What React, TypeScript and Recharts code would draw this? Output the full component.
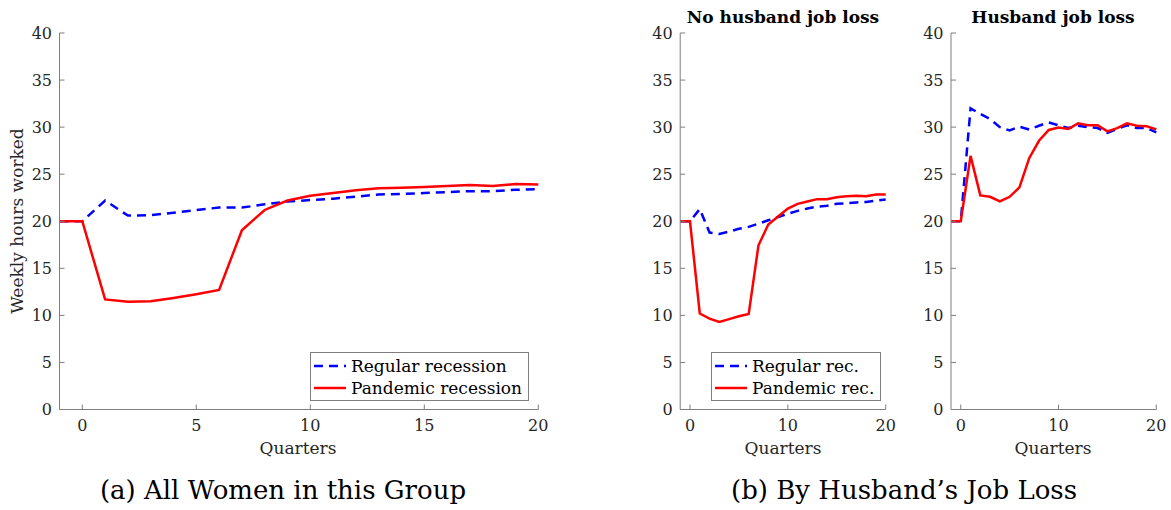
import React from "react";
import { Line, LineChart, XAxis, YAxis } from "recharts";

// quarters since job loss, -1 .. 20
const quarters = [-1, 0, 1, 2, 3, 4, 5, 6, 7, 8, 9, 10, 11, 12, 13, 14, 15, 16, 17, 18, 19, 20];

// (a) all women
const regularAll = [20, 20, 22.2, 20.6, 20.65, 20.9, 21.2, 21.45, 21.45, 21.8, 22.1, 22.25, 22.4, 22.6, 22.85, 22.9, 23.0, 23.1, 23.2, 23.2, 23.35, 23.4];
const pandemicAll = [20, 20, 11.7, 11.45, 11.5, 11.85, 12.25, 12.7, 19.05, 21.2, 22.2, 22.7, 23.0, 23.3, 23.5, 23.55, 23.65, 23.75, 23.85, 23.75, 23.95, 23.9];

// (b) no husband job loss
const regularNoLoss = [20, 20, 21.3, 18.8, 18.65, 18.9, 19.2, 19.4, 19.75, 20.1, 20.45, 20.8, 21.1, 21.35, 21.55, 21.65, 21.85, 21.9, 22.0, 22.05, 22.2, 22.3];
const pandemicNoLoss = [20, 20, 10.2, 9.65, 9.3, 9.6, 9.9, 10.15, 17.45, 19.65, 20.5, 21.35, 21.85, 22.1, 22.35, 22.35, 22.55, 22.65, 22.7, 22.65, 22.85, 22.85];

// (b) husband job loss
const regularLoss = [20, 20, 32.0, 31.4, 30.85, 30.0, 29.65, 30.05, 29.75, 30.15, 30.5, 30.2, 29.9, 30.15, 30.0, 29.9, 29.4, 29.8, 30.2, 29.9, 29.9, 29.45];
const pandemicLoss = [20, 20, 26.95, 22.75, 22.6, 22.1, 22.6, 23.6, 26.7, 28.55, 29.7, 29.95, 29.8, 30.4, 30.2, 30.2, 29.55, 29.9, 30.4, 30.15, 30.1, 29.75];

const yTicks = [0, 5, 10, 15, 20, 25, 30, 35, 40];
const xTicksWide = [0, 5, 10, 15, 20];
const xTicksNarrow = [0, 10, 20];

const FONT = "'DejaVu Serif', serif";
const AXIS = "#7f7f7f";
const TICK_TEXT = { fill: "#262626", fontSize: 16, fontFamily: FONT };

const build = (reg: number[], pan: number[]) =>
  quarters.map((q, i) => ({ q, regular: reg[i], pandemic: pan[i] }));

type PanelProps = {
  left: number;
  width: number;
  yAxisWidth: number;
  right: number;
  xTicks: number[];
  reg: number[];
  pan: number[];
};

const Panel = ({ left, width, yAxisWidth, right, xTicks, reg, pan }: PanelProps) => (
  <div style={{ position: "absolute", left, top: 0 }}>
    <LineChart
      width={width}
      height={460}
      data={build(reg, pan)}
      margin={{ top: 33, right, left: 0, bottom: 0 }}
    >
      <XAxis
        dataKey="q"
        type="number"
        domain={[-1, 20]}
        ticks={xTicks}
        interval={0}
        height={50.5}
        stroke={AXIS}
        tickSize={-5}
        tickMargin={15}
        tick={TICK_TEXT}
      />
      <YAxis
        type="number"
        domain={[0, 40]}
        ticks={yTicks}
        interval={0}
        width={yAxisWidth}
        stroke={AXIS}
        tickSize={-5}
        tickMargin={12.5}
        tick={TICK_TEXT}
      />
      <Line
        type="linear"
        dataKey="regular"
        stroke="#0000ff"
        strokeWidth={2.5}
        strokeDasharray="9 6"
        dot={false}
        isAnimationActive={false}
      />
      <Line
        type="linear"
        dataKey="pandemic"
        stroke="#ff0000"
        strokeWidth={2.5}
        dot={false}
        isAnimationActive={false}
      />
    </LineChart>
  </div>
);

const Text = ({ x, y, size, bold, rotate, children }: any) => (
  <div
    style={{
      position: "absolute",
      left: x,
      top: y,
      transform: `translate(-50%, -50%)${rotate ? " rotate(-90deg)" : ""}`,
      fontSize: size,
      fontWeight: bold ? "bold" : "normal",
      whiteSpace: "nowrap",
      color: bold ? "#000" : "#262626",
      lineHeight: 1,
    }}
  >
    {children}
  </div>
);

const LegendBox = ({ x, y, w, labels }: { x: number; y: number; w: number; labels: string[] }) => (
  <div
    style={{
      position: "absolute",
      left: x,
      top: y,
      width: w,
      height: 47,
      border: `1px solid ${AXIS}`,
      background: "#fff",
      fontSize: 17,
      color: "#000",
    }}
  >
    {labels.map((label, i) => (
      <div
        key={label}
        style={{ position: "absolute", left: 3, top: 2 + i * 22, height: 22, display: "flex", alignItems: "center" }}
      >
        <svg width={34} height={10} style={{ marginRight: 3 }}>
          <line
            x1={0}
            x2={32}
            y1={5}
            y2={5}
            stroke={i === 0 ? "#0000ff" : "#ff0000"}
            strokeWidth={2.5}
            strokeDasharray={i === 0 ? "9 6" : undefined}
          />
        </svg>
        <span style={{ lineHeight: 1 }}>{label}</span>
      </div>
    ))}
  </div>
);

export default function App() {
  return (
    <div
      style={{
        position: "absolute",
        left: 0,
        top: 0,
        width: 1171,
        height: 510,
        background: "#fff",
        fontFamily: FONT,
        overflow: "hidden",
      }}
    >
      <Panel left={0} width={560} yAxisWidth={59.5} right={21.7} xTicks={xTicksWide} reg={regularAll} pan={pandemicAll} />
      <Panel left={620} width={280} yAxisWidth={60.2} right={14.3} xTicks={xTicksNarrow} reg={regularNoLoss} pan={pandemicNoLoss} />
      <Panel left={890} width={280} yAxisWidth={61} right={13.7} xTicks={xTicksNarrow} reg={regularLoss} pan={pandemicLoss} />

      <Text x={17} y={221} size={17} rotate>Weekly hours worked</Text>
      <Text x={298} y={448} size={17}>Quarters</Text>
      <Text x={783} y={448} size={17}>Quarters</Text>
      <Text x={1053} y={448} size={17}>Quarters</Text>

      <Text x={783} y={17} size={17} bold>No husband job loss</Text>
      <Text x={1053} y={17} size={17} bold>Husband job loss</Text>

      <LegendBox x={310} y={352} w={217} labels={["Regular recession", "Pandemic recession"]} />
      <LegendBox x={711} y={352} w={168} labels={["Regular rec.", "Pandemic rec."]} />

      <div style={{ position: "absolute", left: 283, top: 490, transform: "translate(-50%, -50%)", fontSize: 26, color: "#000", whiteSpace: "nowrap", lineHeight: 1 }}>
        (a) All Women in this Group
      </div>
      <div style={{ position: "absolute", left: 904, top: 490, transform: "translate(-50%, -50%)", fontSize: 26, color: "#000", whiteSpace: "nowrap", lineHeight: 1 }}>
        (b) By Husband’s Job Loss
      </div>
    </div>
  );
}
